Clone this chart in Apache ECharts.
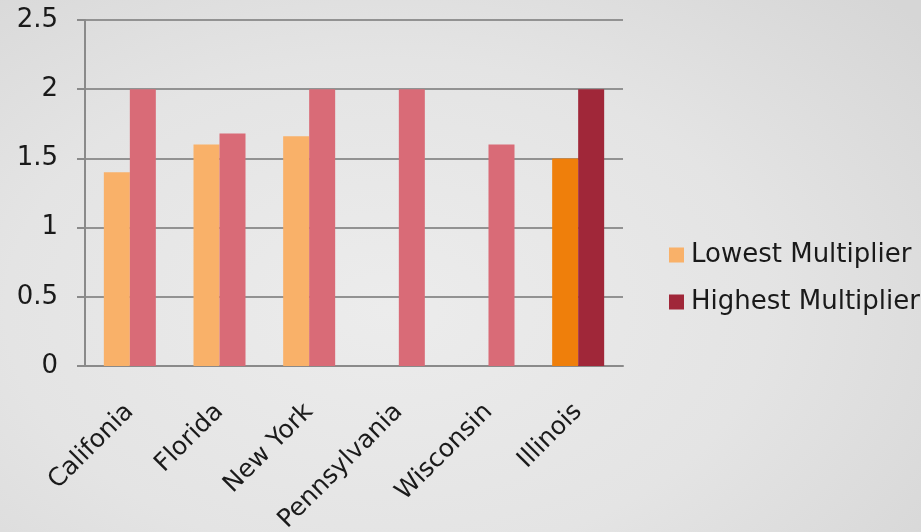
<!DOCTYPE html>
<html>
<head>
<meta charset="utf-8">
<script src="https://cdn.jsdelivr.net/npm/echarts@6/dist/echarts.min.js"></script>
<style>
  html, body { margin: 0; padding: 0; }
  body {
    width: 921px; height: 532px;
    background: radial-gradient(ellipse 75% 85% at 42% 58%, #ececec 0%, #e4e4e4 55%, #d6d6d6 100%);
  }
  #chart { width: 921px; height: 532px; }
</style>
</head>
<body>
<div id="chart"></div>
<script>
// data
var states = ['Califonia', 'Florida', 'New York', 'Pennsylvania', 'Wisconsin', 'Illinois'];
var lowest = [1.4, 1.6, 1.66, null, null, 1.5];
var highest = [2, 1.68, 2, 2, 1.6, 2];
var yTicks = [0, 0.5, 1, 1.5, 2, 2.5];

var lowColor = '#f9b169', lowHi = '#ef7f0b';   // Illinois drawn darker
var highColor = '#d96b77', highHi = '#a02739';

var myChart = echarts.init(document.getElementById('chart'));

function items(vals, base, last) {
  return vals.map(function (v, i) {
    if (i === vals.length - 1) return { value: v, itemStyle: { color: last } };
    return { value: v, itemStyle: { color: base } };
  });
}

var option = {
  backgroundColor: 'transparent',
  textStyle: { fontFamily: 'DejaVu Sans', color: '#000' },
  animation: false,
  grid: { left: 85, right: 298, top: 20, bottom: 166, outerBoundsMode: 'none', containLabel: false },
  legend: {
    orient: 'vertical',
    left: 664,
    top: 237,
    icon: 'rect',
    itemWidth: 15,
    itemHeight: 15,
    itemGap: 21,
    textStyle: { fontSize: 26, color: '#1a1a1a', fontFamily: 'DejaVu Sans', padding: [0, 0, 0, 2] },
    data: [
      { name: 'Lowest Multiplier', itemStyle: { color: lowColor } },
      { name: 'Highest Multiplier', itemStyle: { color: highHi } }
    ]
  },
  xAxis: {
    type: 'category',
    data: states,
    axisLine: { lineStyle: { color: '#8a8a8a', width: 2 } },
    axisTick: { length: 8, lineStyle: { color: '#8a8a8a', width: 2 } },
    axisLabel: { rotate: 45, margin: 42, fontSize: 25, color: '#1a1a1a', interval: 0 }
  },
  yAxis: {
    type: 'value',
    min: 0, max: 2.5, interval: 0.5,
    axisLine: { show: true, lineStyle: { color: '#8a8a8a', width: 2 } },
    axisTick: { show: true, length: 8, lineStyle: { color: '#8a8a8a', width: 2 } },
    axisLabel: {
      fontSize: 26, color: '#1a1a1a', margin: 27,
      formatter: function (v) { return yTicks.indexOf(v) >= 0 ? String(v) : ''; }
    },
    splitLine: { lineStyle: { color: '#929292', width: 2 } }
  },
  series: [
    {
      name: 'Lowest Multiplier', type: 'bar', barWidth: 26, barGap: '0%',
      itemStyle: { color: lowColor },
      data: items(lowest, lowColor, lowHi)
    },
    {
      name: 'Highest Multiplier', type: 'bar', barWidth: 26, barGap: '0%',
      itemStyle: { color: highHi },
      data: items(highest, highColor, highHi)
    }
  ]
};
myChart.setOption(option);
</script>
</body>
</html>
